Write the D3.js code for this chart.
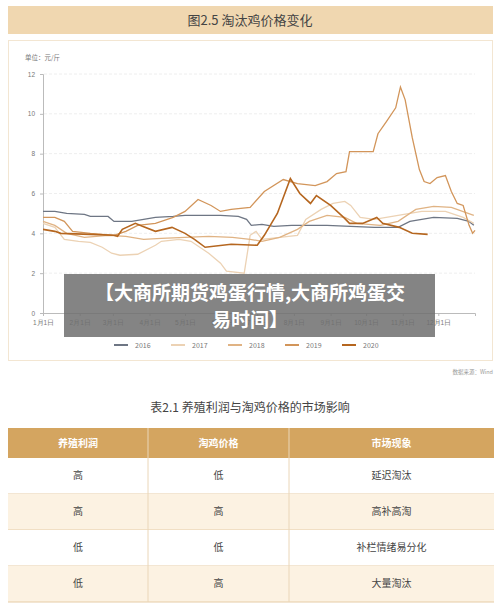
<!DOCTYPE html>
<html><head><meta charset="utf-8">
<script src="https://cdn.jsdelivr.net/npm/d3@7"></script>
<style>body{margin:0;background:#fff;font-family:"Noto Sans CJK SC","Noto Sans",sans-serif}</style>
</head><body>
<svg width="500" height="611"></svg>
<script>
// 数据: [日序, 元/斤]
const years = ['2016', '2017', '2018', '2019', '2020']
const colors = ['#6e7684', '#ecd2b4', '#e0b384', '#d2955a', '#b5661f']
const months = ['1月1日','2月1日','3月1日','4月1日','5月1日','6月1日','7月1日','8月1日','9月1日','10月1日','11月1日','12月1日']
const monthDays = [0,31,59,90,120,151,181,212,243,273,304,334]
const s2016 = [[0,5.1],[10,5.1],[20,5.0],[35,4.95],[40,4.85],[55,4.85],[60,4.6],[75,4.6],[85,4.7],[95,4.8],[110,4.85],[120,4.9],[150,4.9],[165,4.85],[172,4.7],[176,4.4],[185,4.45],[195,4.35],[210,4.4],[240,4.4],[260,4.35],[280,4.3],[300,4.3],[310,4.6],[320,4.7],[330,4.8],[350,4.75],[360,4.6],[364,4.4]]
const s2017 = [[0,4.5],[10,4.3],[18,3.7],[30,3.6],[40,3.55],[50,3.3],[58,3.0],[65,2.9],[80,2.95],[95,3.4],[100,3.6],[115,3.7],[125,3.6],[140,3.0],[150,2.5],[155,2.1],[170,2.0],[175,3.9],[180,4.1],[185,3.7],[200,3.8],[215,3.9],[222,4.7],[235,5.2],[245,5.5],[255,5.6],[260,5.4],[268,4.8],[280,4.7],[300,4.9],[320,5.1],[340,5.1],[355,4.8],[364,4.5]]
const s2018 = [[0,4.6],[10,4.4],[20,4.0],[35,3.8],[55,3.9],[70,3.85],[85,3.7],[100,3.75],[120,3.8],[140,3.85],[160,3.8],[175,3.7],[185,3.6],[200,3.8],[215,4.2],[225,4.6],[240,4.9],[255,4.8],[265,4.5],[285,4.4],[300,4.6],[315,5.2],[330,5.35],[345,5.3],[364,4.9]]
const s2019 = [[0,4.8],[10,4.8],[18,4.6],[25,4.1],[40,4.0],[60,3.9],[70,4.1],[80,4.4],[95,4.5],[110,4.8],[120,5.1],[131,5.7],[142,5.4],[150,5.1],[159,5.2],[175,5.3],[187,6.1],[203,6.7],[215,6.5],[230,6.4],[240,6.6],[248,7.0],[256,7.1],[259,8.1],[279,8.1],[283,9.0],[290,9.6],[298,10.3],[302,11.35],[306,10.7],[312,8.8],[318,7.2],[322,6.6],[327,6.5],[333,6.8],[340,6.9],[345,6.1],[350,5.5],[355,5.4],[360,4.4],[363,4.0],[365,4.15]]
const s2020 = [[0,4.2],[10,4.1],[15,4.0],[40,3.95],[60,3.9],[63,3.85],[67,4.2],[78,4.5],[84,4.35],[95,4.1],[109,4.3],[120,4.0],[128,3.7],[137,3.3],[159,3.45],[181,3.4],[187,3.9],[198,5.0],[209,6.75],[217,6.0],[226,5.5],[231,5.9],[243,5.4],[254,4.8],[259,4.5],[270,4.5],[282,4.8],[287,4.5],[301,4.3],[312,4.0],[325,3.95]]
const series = [s2016, s2017, s2018, s2019, s2020]
const yTicks = [0, 2, 4, 6, 8, 10, 12]
const tableHead = ['养殖利润', '淘鸡价格', '市场现象']
const tableRows = [['高','低','延迟淘汰'],['高','高','高补高淘'],['低','低','补栏情绪易分化'],['低','高','大量淘汰']]

const svg = d3.select('svg')
// 标题
svg.append('rect').attr('x', 8).attr('y', 6).attr('width', 485).attr('height', 28).attr('fill', '#f0d7b0')
svg.append('text').attr('x', 250).attr('y', 25).attr('text-anchor', 'middle').attr('font-size', 13).attr('fill', '#444').text('图2.5 淘汰鸡价格变化')
svg.append('rect').attr('x', 8.5).attr('y', 40.5).attr('width', 484).attr('height', 320).attr('fill', '#fff').attr('stroke', '#f3e6d2')

const x = d3.scaleLinear().domain([0, 365]).range([43, 475])
const y = d3.scaleLinear().domain([0, 12]).range([313, 74])

svg.append('text').attr('x', 25).attr('y', 60).attr('font-size', 6.5).attr('fill', '#777').text('单位：元/斤')
svg.append('g').selectAll('line').data(yTicks.slice(1)).join('line')
  .attr('x1', 44).attr('x2', 475).attr('y1', d => y(d)).attr('y2', d => y(d))
  .attr('stroke', '#eee').attr('stroke-dasharray', '3,2')
const ya = svg.append('g').attr('transform', 'translate(43,0)')
  .call(d3.axisLeft(y).tickValues(yTicks).tickSize(3))
ya.select('.domain').attr('stroke', '#bbb')
ya.selectAll('line').attr('stroke', '#bbb')
ya.selectAll('text').attr('font-size', 6.5).attr('fill', '#777').attr('x', -8)
const xa = svg.append('g').attr('transform', 'translate(0,313)')
  .call(d3.axisBottom(x).tickValues(monthDays).tickFormat((d, i) => months[i]).tickSize(3))
xa.select('.domain').attr('stroke', '#bbb')
xa.selectAll('line').attr('stroke', '#bbb')
xa.selectAll('text').attr('font-size', 6.5).attr('fill', '#777').attr('dy', '0.9em')

const line = d3.line().x(d => x(d[0])).y(d => y(d[1]))
svg.append('g').selectAll('path').data(series).join('path')
  .attr('d', line).attr('fill', 'none')
  .attr('stroke', (d, i) => colors[i])
  .attr('stroke-width', (d, i) => i === 4 ? 1.6 : 1.3)

// 图例
const lg = svg.append('g').selectAll('g').data(years).join('g')
  .attr('transform', (d, i) => `translate(${114 + i * 57},345)`)
lg.append('line').attr('x1', 0).attr('x2', 14).attr('stroke', (d, i) => colors[i]).attr('stroke-width', 2)
lg.append('text').attr('x', 21).attr('y', 2.5).attr('font-size', 7).attr('fill', '#777').text(d => d)

svg.append('text').attr('x', 493).attr('y', 374).attr('text-anchor', 'end').attr('font-size', 5.5).attr('fill', '#999').text('数据来源：Wind')
svg.append('text').attr('x', 250).attr('y', 412).attr('text-anchor', 'middle').attr('font-size', 12).attr('fill', '#444').text('表2.1 养殖利润与淘鸡价格的市场影响')

// 表格
const colX = [8, 148, 289, 494]
const rowH = 36
svg.append('rect').attr('x', 8).attr('y', 428).attr('width', 486).attr('height', 30).attr('fill', '#d4a560')
tableRows.forEach((r, i) => {
  svg.append('rect').attr('x', 8).attr('y', 458 + i * rowH).attr('width', 486).attr('height', rowH)
    .attr('fill', i % 2 ? '#fcf2e2' : '#fff')
  svg.append('line').attr('x1', 8).attr('x2', 494).attr('y1', 458 + (i + 1) * rowH).attr('y2', 458 + (i + 1) * rowH).attr('stroke', '#e6cca6')
})
svg.selectAll('.vl').data([148, 289]).join('line').attr('x1', d => d).attr('x2', d => d)
  .attr('y1', 428).attr('y2', 602).attr('stroke', '#ead6b8')
tableHead.forEach((h, j) => svg.append('text').attr('x', (colX[j] + colX[j + 1]) / 2).attr('y', 447)
  .attr('text-anchor', 'middle').attr('font-size', 10).attr('font-weight', 'bold').attr('fill', '#fff').text(h))
tableRows.forEach((r, i) => r.forEach((c, j) => svg.append('text').attr('x', (colX[j] + colX[j + 1]) / 2)
  .attr('y', 479 + i * rowH).attr('text-anchor', 'middle').attr('font-size', 10).attr('fill', '#444').text(c)))

// 遮盖横幅
svg.append('rect').attr('x', 64).attr('y', 274).attr('width', 371).attr('height', 63).attr('fill', 'rgba(110,110,110,0.85)')
svg.append('text').attr('x', 250).attr('y', 300).attr('text-anchor', 'middle').attr('font-size', 19).attr('font-weight', 'bold').attr('fill', '#fff').text('【大商所期货鸡蛋行情,大商所鸡蛋交')
svg.append('text').attr('x', 250).attr('y', 327).attr('text-anchor', 'middle').attr('font-size', 19).attr('font-weight', 'bold').attr('fill', '#fff').text('易时间】')
</script>
</body></html>
